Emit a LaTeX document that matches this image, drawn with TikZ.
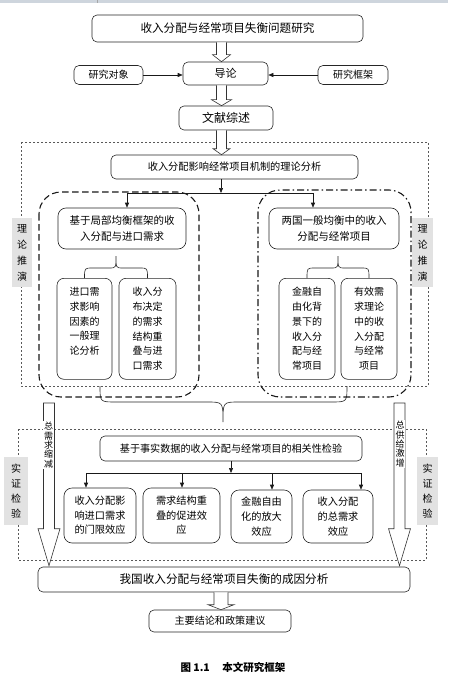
\documentclass[tikz,border=0pt]{standalone}
\usepackage{fontspec}
\setmainfont{Noto Sans CJK SC}
\usetikzlibrary{calc,arrows.meta,positioning}

\definecolor{stripgray}{RGB}{206,213,221}
\definecolor{labelgray}{RGB}{226,226,226}

\newcommand{\fs}[2]{\fontsize{#1pt}{#2pt}\selectfont}
\newcommand{\tightlines}{\lineskiplimit=-5pt\relax}
% hollow arrow: x, from, to, shaft half width, head half width, head length
\newcommand{\hollowdown}[6]{%
  \draw[hollowarrow] let \p1=(#2), \p2=(#3) in
    (#1pt-#4pt,\y1) -- (#1pt-#4pt,\y2+#6pt) -- (#1pt-#5pt,\y2+#6pt) -- (#1pt,\y2)
    -- (#1pt+#5pt,\y2+#6pt) -- (#1pt+#4pt,\y2+#6pt) -- (#1pt+#4pt,\y1);}
% small brace above two columns
\newcommand{\upbrace}[2]{%
  \draw[bracepen] let \p1=(#1), \p2=(#2), \p3=($(#1)!0.5!(#2)$) in
    (\x1,\y1) .. controls (\x1,\y1+10pt) .. (\x1+8pt,\y1+10pt) -- (\x3-7pt,\y1+10pt)
    .. controls (\x3,\y1+10pt) .. (\x3,\y1+22pt) .. controls (\x3,\y1+10pt) .. (\x3+7pt,\y1+10pt)
    -- (\x2-8pt,\y1+10pt) .. controls (\x2,\y1+10pt) .. (\x2,\y2);}
\newcommand{\tallcol}[1]{\parbox[c][83pt][t]{48pt}{\centering #1}}

\begin{document}
\begin{tikzpicture}[x=1pt, y=-1pt, >={Triangle[length=5pt,width=4pt]},
    box/.style={draw=black!85, line width=0.6pt, rounded corners=5pt, align=center,
      inner sep=0pt, font=\fs{10}{14}},
    tallbox/.style={box, rounded corners=7pt, minimum width=#1, minimum height=101pt, anchor=north},
    sidelabel/.style={fill=labelgray, inner sep=0pt, align=center, font=\fs{10}{16}},
    shaftlabel/.style={fill=white, inner sep=0.8pt, align=center, font={\fs{9}{9.4}\tightlines}},
    link/.style={line width=0.6pt, black!90},
    hollowarrow/.style={draw=black!80, line width=0.6pt, fill=white, line join=miter},
    bracepen/.style={line width=0.6pt, black!85},
    dotframe/.style={black!65, line width=0.5pt, dash pattern=on 2pt off 2pt},
    regiondash/.style={black!90, line width=1.1pt, rounded corners=22pt, dash pattern=on 6.5pt off 3.5pt},
    regiondot/.style={black!90, line width=1.1pt, rounded corners=22pt, dash pattern=on 7pt off 3pt on 1.5pt off 3pt}]

  \useasboundingbox (0,0) rectangle (448,682);
  \fill[stripgray] (0,0) rectangle (448,3);
  \draw[black!35, line width=0.5pt] (97,0) -- (97,3);

  % dotted frames
  \draw[dotframe] (21,142) rectangle (428,386);
  \draw[dotframe] (18,429) rectangle (426,560);

  % side labels
  \node[sidelabel, minimum width=20pt, minimum height=69pt] (llt) at (22,252.5) {理\\论\\推\\演};
  \node[sidelabel, minimum width=21pt, minimum height=69pt] (rlt) at (422.5,252.5) {理\\论\\推\\演};
  \node[sidelabel, minimum width=24pt, minimum height=68pt, font=\fs{10}{15}] (lle) at (16,491) {实\\证\\检\\验};
  \node[sidelabel, minimum width=21pt, minimum height=68pt, font=\fs{10}{15}] (rle) at (427.5,491) {实\\证\\检\\验};

  % top part
  \node[box, minimum width=271pt, minimum height=27pt, font=\fs{11.6}{14}] (title) at (227.5,28.5) {收入分配与经常项目失衡问题研究};
  \node[box, minimum width=85pt, minimum height=23pt, font=\fs{11}{14}] (daolun) at (225.5,73.5) {导论};
  \node[box, minimum width=69pt, minimum height=19pt] (duixiang) at (108.5,75) {研究对象};
  \node[box, minimum width=70pt, minimum height=19pt] (kuangjia) at (353,75) {研究框架};
  \node[box, minimum width=94pt, minimum height=24pt, font=\fs{12}{14}] (wenxian) at (226,118) {文献综述};
  \node[box, minimum width=247pt, minimum height=24pt, font=\fs{10.2}{14}] (jizhi) at (234.5,167) {收入分配影响经常项目机制的理论分析};

  \hollowdown{221.5}{title.south}{daolun.north}{5}{9}{7}
  \hollowdown{221.5}{daolun.south}{wenxian.north}{5}{10}{6}
  \hollowdown{221.5}{wenxian.south}{jizhi.north}{5}{8.5}{6}
  \draw[link, ->] (duixiang.east) -- (duixiang.east -| daolun.west);
  \draw[link, ->] (kuangjia.west) -- (kuangjia.west -| daolun.east);

  % theory part
  \draw[regiondash] (39,192) rectangle (199,397);
  \draw[regiondot] (258,190) rectangle (411,397);

  \node[box, minimum width=128pt, minimum height=41pt, rounded corners=8pt, font=\fs{10.5}{16}] (leftA) at (122,228.5) {基于局部均衡框架的收\\入分配与进口需求};
  \node[box, minimum width=130pt, minimum height=41pt, rounded corners=8pt, font=\fs{10.5}{16}] (rightA) at (334,228.5) {两国一般均衡中的收入\\分配与经常项目};

  \coordinate (jsplit) at (221,193);
  \coordinate (jl) at (127,193);
  \coordinate (jr) at (313,193);
  \draw[link, ->] (jizhi.south -| jsplit) -- (jsplit);
  \draw[link] (jl) -- (jr);
  \draw[link, ->] (jl) -- (jl |- leftA.north);
  \draw[link, ->] (jr) -- (jr |- rightA.north);

  \node[tallbox=55pt, font=\fs{10}{14.8}] (l1) at (84.5,278) {\tallcol{进口需\\求影响\\因素的\\一般理\\论分析}};
  \node[tallbox=57pt, font=\fs{10}{14.8}] (l2) at (147.5,278) {\tallcol{收入分\\布决定\\的需求\\结构重\\叠与进\\口需求}};
  \node[tallbox=56pt, font=\fs{10}{14.8}] (r1) at (307,278) {\tallcol{金融自\\由化背\\景下的\\收入分\\配与经\\常项目}};
  \node[tallbox=56pt, font=\fs{10}{14.8}] (r2) at (369,278) {\tallcol{有效需\\求理论\\中的收\\入分配\\与经常\\项目}};
  \upbrace{l1.north}{l2.north}
  \upbrace{r1.north}{r2.north}

  % joining brace
  \draw[bracepen] (100,386) .. controls (100,402) .. (116,402) -- (207,402)
    .. controls (223,402) .. (223,422) .. controls (223,402) .. (239,402)
    -- (331,402) .. controls (347,402) .. (347,386);

  % evidence part
  \node[box, minimum width=262pt, minimum height=25pt, font=\fs{10.1}{14}] (jianyan) at (231,448.5) {基于事实数据的收入分配与经常项目的相关性检验};
  \node[box, minimum width=72pt, minimum height=55pt, rounded corners=8pt, font=\fs{10.2}{14.5}] (e1) at (100,515.5) {收入分配影\\响进口需求\\的门限效应};
  \node[box, minimum width=77pt, minimum height=55pt, rounded corners=8pt, font=\fs{10.2}{14.5}] (e2) at (181.5,515.5) {需求结构重\\叠的促进效\\应};
  \node[box, minimum width=61pt, minimum height=53pt, rounded corners=8pt, font=\fs{10.2}{15}] (e3) at (261.5,516.5) {金融自由\\化的放大\\效应};
  \node[box, minimum width=70pt, minimum height=53pt, rounded corners=8pt, font=\fs{10.2}{15}] (e4) at (338,516.5) {收入分配\\的总需求\\效应};

  \coordinate (vsplit) at (231,473);
  \coordinate (v1) at (86,473);
  \coordinate (v2) at (182,473);
  \coordinate (v3) at (272,473);
  \coordinate (v4) at (361,473);
  \draw[link, ->] (jianyan.south -| vsplit) -- (vsplit);
  \draw[link] (v1) -- (v4);
  \foreach \v/\e in {v1/e1, v2/e2, v3/e3, v4/e4}
    \draw[link, ->] (\v) -- (\v |- \e.north);

  % bottom part
  \node[box, minimum width=372pt, minimum height=25pt, font=\fs{11.6}{14}] (chengyin) at (224,579.5) {我国收入分配与经常项目失衡的成因分析};
  \node[box, minimum width=142pt, minimum height=22pt, font=\fs{10.1}{14}] (jielun) at (220,621) {主要结论和政策建议};
  \hollowdown{221}{chengyin.south}{jielun.north}{7}{13}{5}

  % long side arrows
  \coordinate (ltop) at (49,403);
  \coordinate (rtop) at (399.5,403);
  \draw[hollowarrow] let \p1=(ltop), \p2=(ltop |- chengyin.north) in
    (\x1-5.5pt,\y1) -- (\x1-5.5pt,\y2+38pt) -- (\x1-11pt,\y2+38pt) -- (\x1,\y2+1pt)
    -- (\x1+11pt,\y2+38pt) -- (\x1+5.5pt,\y2+38pt) -- (\x1+5.5pt,\y1) -- cycle;
  \draw[hollowarrow] let \p1=(rtop), \p2=(rtop |- chengyin.north) in
    (\x1-5.5pt,\y1) -- (\x1-5.5pt,\y2+38pt) -- (\x1-11pt,\y2+38pt) -- (\x1,\y2+1pt)
    -- (\x1+11pt,\y2+38pt) -- (\x1+5.5pt,\y2+38pt) -- (\x1+5.5pt,\y1) -- cycle;
  \node[shaftlabel] (jianshao) at (48.7,445) {总\\需\\求\\缩\\减};
  \node[shaftlabel] (jizeng) at (400,444) {总\\供\\给\\激\\增};

  % caption
  \node[font=\fs{10.5}{14}\bfseries] (caption) at (233,667) {图 1.1\hspace{1.2em}本文研究框架};
\end{tikzpicture}
\end{document}
